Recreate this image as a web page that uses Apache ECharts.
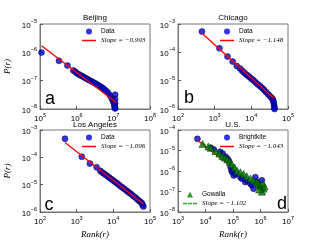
<!DOCTYPE html>
<html><head><meta charset="utf-8">
<script src="https://cdn.jsdelivr.net/npm/echarts@6/dist/echarts.min.js"></script>
<style>html,body{margin:0;padding:0;background:#fff}#c{width:320px;height:240px}</style>
</head><body><div id="c"></div>
<script>
// ---- Panel a: Beijing ----
const bjRank = [1.1e5,3.3e5,5.6e5,8.1e5,9.0e5,1.0e6,1.12e6,1.26e6,1.41e6,1.58e6,1.78e6,2.0e6,2.24e6,2.51e6,2.82e6,3.16e6,3.55e6,3.98e6,4.47e6,5.01e6,5.62e6,6.31e6,7.08e6,7.94e6,8.7e6,9.5e6,1.0e7,1.05e7,1.08e7,1.1e7,1.12e7,1.12e7,1.12e7,1.12e7];
const bjP    = [9.8e-7,5.0e-7,3.4e-7,2.3e-7,2.1e-7,1.85e-7,1.7e-7,1.55e-7,1.45e-7,1.32e-7,1.22e-7,1.12e-7,1.03e-7,9.5e-8,8.8e-8,8.1e-8,7.4e-8,6.8e-8,6.2e-8,5.6e-8,5.0e-8,4.4e-8,3.8e-8,3.1e-8,2.6e-8,2.1e-8,1.8e-8,1.5e-8,1.26e-8,1.1e-8,3.2e-8,2.2e-8,1.6e-8,1.05e-8];
const bjFitX = [1.1e5, 1.2e7];
const bjFitY = [1.7e-6, 1.7e-8];
const bjSlope = 'Slope = −0.993';

// ---- Panel b: Chicago ----
const chRank = [4.5e2,1.35e3,2.24e3,3.1e3,4.0e3,4.9e3,5.6e3,6.3e3,7.1e3,7.9e3,8.9e3,1.0e4,1.12e4,1.26e4,1.41e4,1.58e4,1.78e4,2.0e4,2.24e4,2.51e4,2.82e4,3.16e4,3.55e4,3.8e4,4.0e4,4.1e4,4.2e4,4.25e4,4.3e4];
const chP    = [5.4e-4,1.38e-4,7.1e-5,4.7e-5,3.3e-5,2.7e-5,2.24e-5,1.95e-5,1.7e-5,1.51e-5,1.35e-5,1.17e-5,1.05e-5,9.1e-6,7.9e-6,7.1e-6,6.2e-6,5.4e-6,4.7e-6,4.0e-6,3.4e-6,2.95e-6,2.5e-6,2.24e-6,1.9e-6,1.6e-6,1.32e-6,1.12e-6,1.0e-6];
const chFitX = [4.5e2, 4.1e4];
const chFitY = [4.7e-4, 2.4e-6];
const chSlope = 'Slope = −1.148';

// ---- Panel c: Los Angeles ----
const laRank = [4.8e2,1.38e3,2.3e3,3.5e3,4.4e3,5.0e3,5.6e3,6.3e3,7.1e3,7.9e3,8.9e3,1.0e4,1.12e4,1.26e4,1.41e4,1.58e4,1.78e4,2.0e4,2.24e4,2.51e4,2.82e4,3.16e4,3.55e4,4.0e4,4.47e4,5.0e4,5.5e4,6.0e4,6.3e4,6.6e4];
const laP    = [4.8e-4,1.05e-4,5.9e-5,4.3e-5,3.2e-5,2.8e-5,2.5e-5,2.24e-5,2.0e-5,1.78e-5,1.58e-5,1.41e-5,1.26e-5,1.12e-5,1.0e-5,8.7e-6,7.8e-6,6.9e-6,6.2e-6,5.5e-6,4.9e-6,4.4e-6,3.8e-6,3.4e-6,2.95e-6,2.6e-6,2.34e-6,2.1e-6,1.82e-6,1.58e-6];
const laFitX = [4.8e2, 6.5e4];
const laFitY = [3.5e-4, 2.0e-6];
const laSlope = 'Slope = −1.096';

// ---- Panel d: U.S. ----
const bkRank = [5.1e3,1.55e4,2.0e4,3.4e4,4.2e4,5.4e4,6.3e4,7.1e4,8.1e4,8.7e4,9.3e4,1.07e5,1.26e5,1.86e5,2.1e5,2.8e5,3.2e5,4.3e5,4.9e5,5.6e5,6.5e5,7.4e5,9.8e5,1.12e6];
const bkP    = [3.7e-5,1.35e-5,1.12e-5,8.7e-6,7.1e-6,5.0e-6,4.0e-6,3.1e-6,1.62e-6,1.12e-6,8.7e-7,6.0e-7,7.1e-7,5.0e-7,4.2e-7,2.9e-7,3.5e-7,2.4e-7,2.0e-7,1.38e-7,5.0e-7,2.9e-7,1.66e-7,3.5e-7];
const bkFitX = [5.1e3, 1.0e5];
const bkFitY = [3.2e-5, 1.45e-6];
const bkSlope = 'Slope = −1.043';
const gwRank = [7.8e3,1.26e4,1.55e4,2.3e4,3.2e4,4.1e4,5.0e4,6.2e4,7.6e4,9.3e4,1.15e5,1.41e5,1.86e5,2.45e5,3.2e5,4.3e5,5.6e5,7.4e5,8.5e5,9.8e5,1.12e6,1.29e6,1.12e6,1.41e6,8.9e5,1.2e6];
const gwP    = [2.1e-5,1.58e-5,1.35e-5,9.3e-6,7.1e-6,5.4e-6,4.5e-6,3.7e-6,2.8e-6,2.1e-6,1.48e-6,1.02e-6,8.7e-7,7.2e-7,5.5e-7,4.2e-7,3.5e-7,2.9e-7,2.4e-7,2.0e-7,1.66e-7,1.38e-7,9.8e-8,1.78e-7,1.26e-7,2.5e-7];
const gwFitX = [7.8e3, 1.5e6];
const gwFitY = [2.4e-5, 7.2e-8];
const gwSlope = 'Slope = −1.102';

// ---- axis ranges (decade ticks) ----
const xTicksA = [1e5,1e6,1e7,1e8], yTicksA = [1e-8,1e-7,1e-6,1e-5];
const xTicksB = [1e2,1e3,1e4,1e5], yTicksB = [1e-6,1e-5,1e-4,1e-3];
const xTicksC = [1e2,1e3,1e4,1e5], yTicksC = [1e-6,1e-5,1e-4,1e-3];
const xTicksD = [1e3,1e4,1e5,1e6,1e7], yTicksD = [1e-8,1e-7,1e-6,1e-5,1e-4];
const titles = ['Beijing','Chicago','Los Angeles','U.S.'];
const letters = ['a','b','c','d'];

const pairs = (xs, ys) => xs.map((x, i) => [x, ys[i]]);
const SANS = 'Liberation Sans';
const SERIF = 'Liberation Serif';

const tickFmt = v => {
  const e = Math.round(Math.log10(v));
  return '{b|10}{s|' + String(e).replace('-', '−') + '}';
};
const rich = {
  b: {fontSize: 8, fontFamily: SANS, color: '#000', lineHeight: 11, verticalAlign: 'bottom'},
  s: {fontSize: 5.5, fontFamily: SANS, color: '#000', lineHeight: 11, verticalAlign: 'top'}
};

const grids = [
  {left: 40, top: 24, width: 110, height: 85},
  {left: 178, top: 24, width: 110, height: 85},
  {left: 40, top: 130, width: 110, height: 84},
  {left: 178, top: 130, width: 110, height: 84}
].map(g => Object.assign(g, {show: true, borderColor: '#777', borderWidth: 1, backgroundColor: '#fff'}));

function xAxis(i, ticks, named) {
  return {
    type: 'log', logBase: 10, gridIndex: i,
    min: ticks[0], max: ticks[ticks.length - 1], interval: 1,
    axisLine: {show: true, lineStyle: {color: '#777', width: 1}},
    axisTick: {show: true, inside: true, length: 3, lineStyle: {color: '#555'}},
    splitLine: {show: false},
    axisLabel: {formatter: tickFmt, rich: rich, margin: 3},
    name: named ? 'Rank(r)' : '', nameLocation: 'middle', nameGap: 18,
    nameTextStyle: {fontFamily: SERIF, fontStyle: 'italic', fontSize: 9, color: '#000'}
  };
}
function yAxis(i, ticks, named) {
  return {
    type: 'log', logBase: 10, gridIndex: i,
    min: ticks[0], max: ticks[ticks.length - 1], interval: 1,
    axisLine: {show: true, lineStyle: {color: '#777', width: 1}},
    axisTick: {show: true, inside: true, length: 3, lineStyle: {color: '#555'}},
    splitLine: {show: false},
    axisLabel: {formatter: tickFmt, rich: rich, margin: 3},
    name: named ? 'P(r)' : '', nameLocation: 'middle', nameGap: 28, nameRotate: 90,
    nameTextStyle: {fontFamily: SERIF, fontStyle: 'italic', fontSize: 9, color: '#000'}
  };
}

const blueDot = {color: '#0000e0', borderColor: '#000022', borderWidth: 0.6};
function scatter(name, i, xs, ys, extra) {
  return Object.assign({
    type: 'scatter', name: name, xAxisIndex: i, yAxisIndex: i,
    data: pairs(xs, ys), symbol: 'circle', symbolSize: 6, itemStyle: blueDot, z: 2
  }, extra || {});
}
function fit(name, i, xs, ys, color, dashed) {
  return {
    type: 'line', name: name, xAxisIndex: i, yAxisIndex: i,
    data: pairs(xs, ys), showSymbol: false, symbol: 'none',
    lineStyle: {color: color, width: 1.3, type: dashed ? [4, 2] : 'solid'},
    itemStyle: {color: color}, z: 3, animation: false
  };
}

const ICON_LINE = 'path://M0,0H14V1.5H0Z';
const ICON_DASH = 'path://M0,0H4V1.5H0Z M5,0H9V1.5H5Z M10,0H14V1.5H10Z';
const ICON_TRI = 'path://M3,0L6,6L0,6Z';
const ICON_DOT = 'circle';

const legText = {fontFamily: SANS, fontSize: 6.5, color: '#000'};
const legItal = {fontFamily: SERIF, fontStyle: 'italic', fontSize: 7, color: '#000'};
function legend(left, top, items) {
  return {
    left: left, top: top, orient: 'vertical', padding: 0, itemGap: 2,
    itemWidth: 14, itemHeight: 6, selectedMode: false, symbolKeepAspect: true,
    itemStyle: {borderWidth: 0}, lineStyle: {width: 0},
    data: items, textStyle: legText
  };
}

const option = {
  animation: false,
  backgroundColor: '#fff',
  grid: grids,
  xAxis: [xAxis(0, xTicksA, false), xAxis(1, xTicksB, false), xAxis(2, xTicksC, true), xAxis(3, xTicksD, true)],
  yAxis: [yAxis(0, yTicksA, true), yAxis(1, yTicksB, false), yAxis(2, yTicksC, true), yAxis(3, yTicksD, false)],
  legend: [
    legend(82, 28, [{name: 'Data', icon: ICON_DOT}, {name: bjSlope, icon: ICON_LINE, textStyle: legItal}]),
    legend(220, 28, [{name: 'Data', icon: ICON_DOT}, {name: chSlope, icon: ICON_LINE, textStyle: legItal}]),
    legend(82, 134, [{name: 'Data', icon: ICON_DOT}, {name: laSlope, icon: ICON_LINE, textStyle: legItal}]),
    legend(220, 134, [{name: 'Brightkite', icon: ICON_DOT}, {name: bkSlope, icon: ICON_LINE, textStyle: legItal}]),
    legend(183, 191, [{name: 'Gowalla', icon: ICON_TRI}, {name: gwSlope, icon: ICON_DASH, textStyle: legItal}])
  ],
  series: [
    scatter('Data', 0, bjRank, bjP),
    fit(bjSlope, 0, bjFitX, bjFitY, '#ff0000'),
    scatter('Data', 1, chRank, chP),
    fit(chSlope, 1, chFitX, chFitY, '#ff0000'),
    scatter('Data', 2, laRank, laP),
    fit(laSlope, 2, laFitX, laFitY, '#ff0000'),
    scatter('Brightkite', 3, bkRank, bkP),
    fit(bkSlope, 3, bkFitX, bkFitY, '#ff0000'),
    scatter('Gowalla', 3, gwRank, gwP, {symbol: 'triangle', symbolSize: 7, itemStyle: {color: '#008000', borderColor: '#002200', borderWidth: 0.6}, z: 4}),
    fit(gwSlope, 3, gwFitX, gwFitY, '#33aa33', true)
  ],
  graphic: [
    {type: 'text', x: 95, y: 18, style: {text: titles[0], font: '8px "' + SANS + '"', fill: '#000', align: 'center', verticalAlign: 'middle'}},
    {type: 'text', x: 233, y: 18, style: {text: titles[1], font: '8px "' + SANS + '"', fill: '#000', align: 'center', verticalAlign: 'middle'}},
    {type: 'text', x: 95, y: 125, style: {text: titles[2], font: '8px "' + SANS + '"', fill: '#000', align: 'center', verticalAlign: 'middle'}},
    {type: 'text', x: 233, y: 125, style: {text: titles[3], font: '8px "' + SANS + '"', fill: '#000', align: 'center', verticalAlign: 'middle'}},
    {type: 'text', x: 50, y: 99, z: 10, style: {text: letters[0], font: '18px "' + SANS + '"', fill: '#000', align: 'center', verticalAlign: 'middle'}},
    {type: 'text', x: 189, y: 98, z: 10, style: {text: letters[1], font: '18px "' + SANS + '"', fill: '#000', align: 'center', verticalAlign: 'middle'}},
    {type: 'text', x: 49, y: 205, z: 10, style: {text: letters[2], font: '18px "' + SANS + '"', fill: '#000', align: 'center', verticalAlign: 'middle'}},
    {type: 'text', x: 282, y: 204, z: 10, style: {text: letters[3], font: '18px "' + SANS + '"', fill: '#000', align: 'center', verticalAlign: 'middle'}}
  ]
};

const chart = echarts.init(document.getElementById('c'), null, {renderer: 'canvas'});
chart.setOption(option);
</script>
</body></html>
